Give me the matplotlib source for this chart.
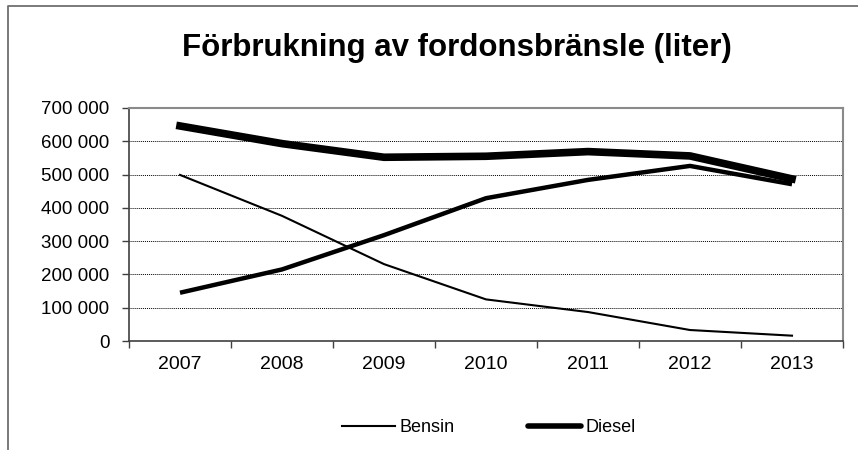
import matplotlib
matplotlib.use("Agg")
import matplotlib.pyplot as plt
from matplotlib.lines import Line2D
from matplotlib.ticker import FuncFormatter

plt.rcParams['font.family'] = ['Liberation Sans', 'DejaVu Sans']

# Data
years = ["2007", "2008", "2009", "2010", "2011", "2012", "2013"]
bensin = [499000, 376000, 231000, 125000, 87000, 33000, 16000]
diesel = [646000, 593000, 552000, 555000, 569000, 556000, 487000]
third = [145000, 215000, 318000, 429000, 484000, 526000, 471000]

fig = plt.figure(figsize=(8.58, 4.5), dpi=100)
ax = fig.add_axes([129 / 858, 1 - 341 / 450, (843 - 129) / 858, (341 - 108) / 450])

x = range(len(years))
ax.plot(x, third, color="black", linewidth=3.2, solid_capstyle="butt", solid_joinstyle="round")
ax.plot(x, bensin, color="black", linewidth=1.5, label="Bensin")
ax.plot(x, diesel, color="black", linewidth=5.5, solid_joinstyle="round", label="Diesel")

ax.set_xlim(-0.5, len(years) - 0.5)
ax.set_ylim(0, 700000)
ax.set_yticks(range(0, 700001, 100000))
ax.yaxis.set_major_formatter(FuncFormatter(lambda v, p: f"{int(v):,}".replace(",", " ")))
ax.tick_params(axis="y", direction="out", length=5, width=1, color="#404040", labelsize=13.5, pad=9)

# category labels in the middle, ticks between categories
ax.set_xticks([i - 0.5 for i in range(len(years) + 1)])
ax.set_xticklabels([])
ax.set_xticks(list(x), minor=True)
ax.set_xticklabels(years, minor=True)
ax.tick_params(axis="x", which="major", direction="out", length=5, width=1, color="#404040")
ax.tick_params(axis="x", which="minor", length=0, labelsize=14, pad=10.5)

ax.grid(axis="y", which="major", color="black", linestyle=(0, (1, 1)), linewidth=0.7)
ax.set_axisbelow(True)
for s in ["top", "right"]:
    ax.spines[s].set_color("#8a8a8a")
    ax.spines[s].set_linewidth(1.5)
for s in ["left", "bottom"]:
    ax.spines[s].set_color("#404040")
    ax.spines[s].set_linewidth(1.2)

fig.text(457 / 858, 1 - 56 / 450, "Förbrukning av fordonsbränsle (liter)",
         ha="center", va="baseline", fontsize=22.5, fontweight="bold")

fig.legend(handles=[Line2D([], [], color="black", linewidth=1.5, label="Bensin"),
                    Line2D([], [], color="black", linewidth=4, label="Diesel", solid_capstyle="round")],
           loc="center", bbox_to_anchor=(489 / 858, 1 - 428 / 450), ncol=2, frameon=False,
           fontsize=13, handlelength=2.9, handletextpad=0.25, columnspacing=4.1)

# outer chart frame (left and top edges visible)
fig.add_artist(Line2D([7.5 / 858, 7.5 / 858, 1], [0, 1 - 5.5 / 450, 1 - 5.5 / 450],
                      transform=fig.transFigure, color="#707070", linewidth=1.3))

fig.savefig("out.png", dpi=100)
